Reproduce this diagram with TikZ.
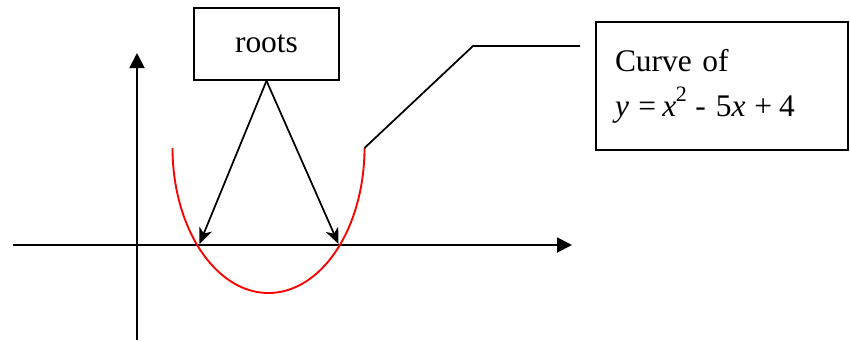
\documentclass[tikz,border=0pt]{standalone}
\usepackage{fontspec}
\setmainfont{Liberation Serif}
\usetikzlibrary{arrows.meta}
\begin{document}
\begin{tikzpicture}[x=0.75pt,y=-0.75pt,
  lbl/.style={font=\fontsize{23.6}{33.75}\selectfont},
  box/.style={draw,line width=1.2pt,lbl,inner sep=0pt},
  axis/.style={line width=1.4pt,-{Triangle[length=11.25pt,width=11.25pt]}},
  ptr/.style={line width=1.3pt,-{Stealth[length=12pt,width=10pt,inset=3.5pt]}},
  leader/.style={line width=1.3pt},
  curve/.style={red,line width=1.4pt}]
\useasboundingbox (0,0) rectangle (850,340);
% axes
\coordinate (xl) at (13,245);
\coordinate (xr) at (572,245);
\coordinate (yb) at (137,340);
\coordinate (yt) at (137,53);
\draw[axis] (xl) -- (xr);
\draw[axis] (yb) -- (yt);
% curve
\draw[curve] plot[domain=0:180,samples=90,smooth] ({268.5+96*cos(\x)},{148+145*sin(\x)});
\coordinate (cend) at (364.5,148);
% boxes
\node[box,minimum width=108.75pt,minimum height=54pt] (roots) at (266.5,44) {roots};
\node[box,minimum width=189pt,minimum height=96pt,align=left,text width=160.5pt,inner xsep=14.25pt] (curvebox) at (722,86) {Curve of\\\textit{y}\hspace{0.3em}=\hspace{0.2em}\textit{x}\kern-0.02em\raisebox{0.08em}{\textsuperscript{2}}\hspace{0.25em}-\hspace{0.32em}5\textit{x}\hspace{0.28em}+\hspace{0.22em}4};
% root arrows
\coordinate (r1) at (199.5,244);
\coordinate (r2) at (338.5,244);
\draw[ptr] (roots.south) -- (r1);
\draw[ptr] (roots.south) -- (r2);
% leader
\coordinate (bend) at (473,46);
\coordinate (lend) at (580,46);
\draw[leader] (cend) -- (bend) -- (lend);
\end{tikzpicture}
\end{document}
